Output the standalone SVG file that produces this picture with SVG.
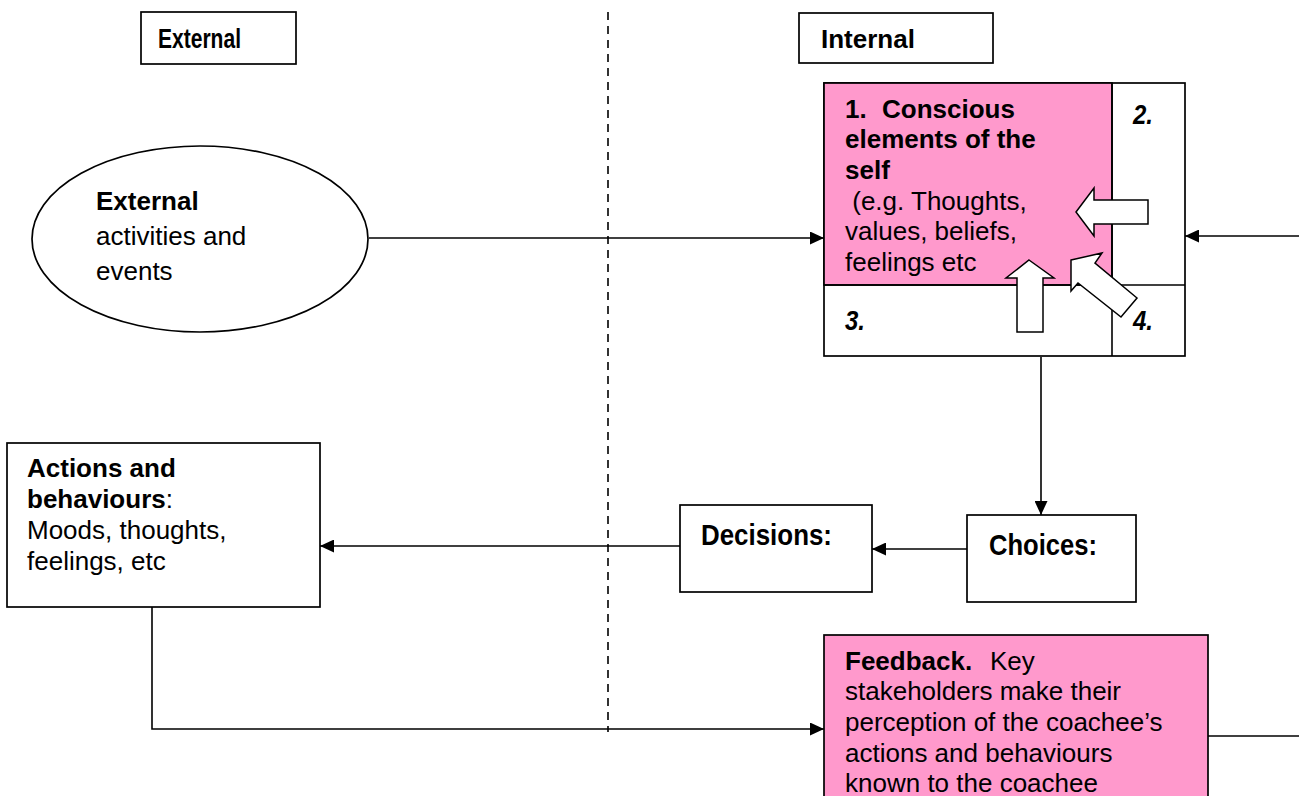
<svg xmlns="http://www.w3.org/2000/svg" width="1299" height="796" viewBox="0 0 1299 796">
<defs>
<style>
.box{fill:#fff;stroke:#000;stroke-width:1.7}
.pink{fill:#ff99cc;stroke:#000;stroke-width:1.7}
.line{fill:none;stroke:#000;stroke-width:1.6}
.blk{fill:#fff;stroke:#000;stroke-width:1.5;stroke-linejoin:miter}
.t{font-family:"Liberation Sans",Arial,sans-serif;font-size:26px;fill:#000}
.b{font-weight:bold}
.n{font-family:"Liberation Sans Narrow","Liberation Sans",Arial,sans-serif;font-weight:bold;fill:#000}
</style>
<marker id="ah" markerUnits="userSpaceOnUse" markerWidth="15" markerHeight="13" refX="14" refY="6.5" orient="auto">
<path d="M0,0 L14,6.5 L0,13 z" fill="#000"/>
</marker>
</defs>
<rect width="1299" height="796" fill="#fff"/>

<g id="divider">
<line x1="608" y1="12" x2="608" y2="732" stroke="#000" stroke-width="1.6" stroke-dasharray="8 6"/>
</g>

<g id="label-external">
<rect class="box" x="141" y="12" width="155" height="52"/>
<text class="n" x="158" y="48" font-size="27" textLength="83" lengthAdjust="spacingAndGlyphs">External</text>
</g>

<g id="label-internal">
<rect class="box" x="799" y="13" width="194" height="50"/>
<text class="t b" x="821" y="48" font-size="25">Internal</text>
</g>

<g id="external-events">
<ellipse class="box" cx="200" cy="239" rx="168" ry="93"/>
<text class="t" x="96" y="210"><tspan class="b">External</tspan></text>
<text class="t" x="96" y="245">activities and</text>
<text class="t" x="96" y="280">events</text>
</g>

<g id="self">
<rect class="box" x="824" y="83" width="361" height="273"/>
<rect class="pink" x="824" y="83" width="288" height="202"/>
<line class="line" x1="1112" y1="83" x2="1112" y2="356"/>
<line class="line" x1="824" y1="285" x2="1185" y2="285"/>
<text class="t b" x="845" y="118">1.<tspan x="882">Conscious</tspan></text>
<text class="t b" x="845" y="148">elements of the</text>
<text class="t b" x="845" y="179">self</text>
<text class="t" x="845" y="210" xml:space="preserve"> (e.g. Thoughts,</text>
<text class="t" x="845" y="240">values, beliefs,</text>
<text class="t" x="845" y="271">feelings etc</text>
<text class="n" x="1133" y="124" font-size="27" font-style="italic" textLength="20" lengthAdjust="spacingAndGlyphs">2.</text>
<text class="n" x="845" y="330" font-size="27" font-style="italic" textLength="20" lengthAdjust="spacingAndGlyphs">3.</text>
<text class="n" x="1133" y="330" font-size="27" font-style="italic" textLength="20" lengthAdjust="spacingAndGlyphs">4.</text>
<polygon class="blk" points="1076,212 1094,188 1094,200 1148,200 1148,224 1094,224 1094,236"/>
<polygon class="blk" points="1029,260 1054,278 1043,278 1043,332 1017,332 1017,278 1006,278"/>
<polygon class="blk" points="1071,260 1102,253 1095,263 1137,298 1121,317 1078,283 1071,291"/>
</g>

<g id="choices">
<rect class="box" x="967" y="515" width="169" height="87"/>
<text class="n" x="989" y="555" font-size="30" textLength="108" lengthAdjust="spacingAndGlyphs">Choices:</text>
</g>

<g id="decisions">
<rect class="box" x="680" y="505" width="192" height="87"/>
<text class="n" x="701" y="545" font-size="30" textLength="131" lengthAdjust="spacingAndGlyphs">Decisions:</text>
</g>

<g id="actions">
<rect class="box" x="7" y="443" width="313" height="164"/>
<text class="t b" x="27" y="477">Actions and</text>
<text class="t" x="27" y="508"><tspan class="b">behaviours</tspan>:</text>
<text class="t" x="27" y="539">Moods, thoughts,</text>
<text class="t" x="27" y="570">feelings, etc</text>
</g>

<g id="feedback">
<rect class="pink" x="824" y="635" width="384" height="190"/>
<text class="t" x="845" y="670"><tspan class="b">Feedback.</tspan><tspan x="990">Key</tspan></text>
<text class="t" x="845" y="700">stakeholders make their</text>
<text class="t" x="845" y="731">perception of the coachee’s</text>
<text class="t" x="845" y="762">actions and behaviours</text>
<text class="t" x="845" y="792">known to the coachee</text>
</g>

<g id="connectors">
<line class="line" x1="369" y1="238" x2="824" y2="238" marker-end="url(#ah)"/>
<line class="line" x1="1299" y1="236" x2="1185" y2="236" marker-end="url(#ah)"/>
<line class="line" x1="1041" y1="357" x2="1041" y2="515" marker-end="url(#ah)"/>
<line class="line" x1="967" y1="549" x2="872" y2="549" marker-end="url(#ah)"/>
<line class="line" x1="680" y1="546" x2="320" y2="546" marker-end="url(#ah)"/>
<polyline class="line" points="152,607 152,729 824,729" marker-end="url(#ah)"/>
<line class="line" x1="1208" y1="736" x2="1299" y2="736"/>
</g>
</svg>
